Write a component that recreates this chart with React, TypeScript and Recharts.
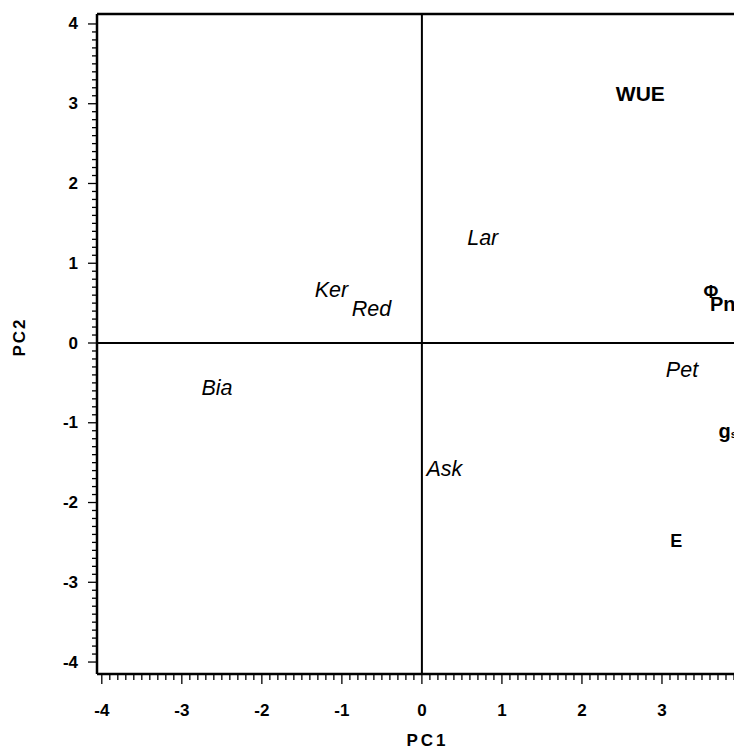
import {
  ScatterChart,
  Scatter,
  XAxis,
  YAxis,
  ReferenceLine,
  Label,
} from 'recharts';

// PCA biplot: cultivars (italic) and gas-exchange variables (bold)
const cultivarNames = ['Ker', 'Red', 'Lar', 'Bia', 'Ask', 'Pet'];
const cultivarPC1 = [-1.13, -0.63, 0.76, -2.56, 0.28, 3.25];
const cultivarPC2 = [0.66, 0.43, 1.32, -0.56, -1.58, -0.34];

const variableNames = ['WUE', 'Φ', 'Pn', 'gs', 'E'];
const variablePC1 = [2.73, 3.61, 3.76, 3.82, 3.18];
const variablePC2 = [3.13, 0.64, 0.49, -1.1, -2.48];

const majorTicks = [-4, -3, -2, -1, 0, 1, 2, 3, 4];

const FONT = '"Liberation Sans", Arial, Helvetica, sans-serif';

const minorTicks: number[] = [];
for (let i = 0; i < majorTicks.length - 1; i++) {
  for (let k = 0; k < 10; k++) {
    minorTicks.push(Number((majorTicks[i] + k / 10).toFixed(2)));
  }
}
minorTicks.push(majorTicks[majorTicks.length - 1]);

const isMajor = (v: number) => Math.abs(v - Math.round(v)) < 1e-6;

const cultivars = cultivarNames.map((name, i) => ({
  name,
  x: cultivarPC1[i],
  y: cultivarPC2[i],
}));
const variables = variableNames.map((name, i) => ({
  name,
  x: variablePC1[i],
  y: variablePC2[i],
}));

const boldSize: Record<string, number> = {
  WUE: 21,
  'Φ': 18,
  Pn: 20,
  gs: 20,
  E: 18,
};

const XTick = (props: any) => {
  const { x, y, payload } = props;
  const major = isMajor(payload.value);
  return (
    <g>
      <line x1={x} y1={y} x2={x} y2={y + (major ? 10 : 6)} stroke="#000" strokeWidth={1.3} />
      {major && (
        <text
          x={x}
          y={y + 36}
          textAnchor="middle"
          dominantBaseline="central"
          fontFamily={FONT}
          fontWeight="bold"
          fontSize={17}
          fill="#000"
        >
          {Math.round(payload.value)}
        </text>
      )}
    </g>
  );
};

const YTick = (props: any) => {
  const { x, y, payload } = props;
  const major = isMajor(payload.value);
  return (
    <g>
      <line x1={x} y1={y} x2={x - (major ? 9 : 5)} y2={y} stroke="#000" strokeWidth={1.3} />
      {major && (
        <text
          x={x - 19}
          y={y}
          textAnchor="end"
          dominantBaseline="central"
          fontFamily={FONT}
          fontWeight="bold"
          fontSize={17}
          fill="#000"
        >
          {Math.round(payload.value)}
        </text>
      )}
    </g>
  );
};

const ItalicLabel = (props: any) => {
  const { cx, cy, payload } = props;
  return (
    <text
      x={cx}
      y={cy}
      textAnchor="middle"
      dominantBaseline="central"
      fontFamily={FONT}
      fontStyle="italic"
      fontSize={21.5}
      fill="#000"
    >
      {payload.name}
    </text>
  );
};

const BoldLabel = (props: any) => {
  const { cx, cy, payload } = props;
  const size = boldSize[payload.name] || 19;
  if (payload.name === 'gs') {
    return (
      <text
        x={cx}
        y={cy}
        textAnchor="middle"
        dominantBaseline="central"
        fontFamily={FONT}
        fontWeight="bold"
        fontSize={size}
        fill="#000"
      >
        g
        <tspan fontSize={size * 0.55} dy={3}>
          s
        </tspan>
      </text>
    );
  }
  return (
    <text
      x={cx}
      y={cy}
      textAnchor="middle"
      dominantBaseline="central"
      fontFamily={FONT}
      fontWeight="bold"
      fontSize={size}
      fill="#000"
    >
      {payload.name}
    </text>
  );
};

export default function App() {
  return (
    <div style={{ width: 734, height: 748, overflow: 'hidden', background: '#fff' }}>
      <ScatterChart
        width={760}
        height={748}
        margin={{ top: 6, right: 18, left: 10, bottom: 22 }}
      >
        <XAxis
          type="number"
          dataKey="x"
          domain={[-4.06, 4.1]}
          ticks={minorTicks}
          interval={0}
          allowDataOverflow
          tickSize={0}
          tickMargin={0}
          tickLine={false}
          tick={<XTick />}
          height={60}
          axisLine={{ stroke: '#000', strokeWidth: 2.5 }}
        >
          <Label
            content={(p: any) => {
              const vb = p.viewBox || {};
              return (
                <text
                  x={vb.x + vb.width / 2 + 4}
                  y={732}
                  textAnchor="middle"
                  dominantBaseline="central"
                  fontFamily={FONT}
                  fontWeight="bold"
                  fontSize={17}
                  letterSpacing={3}
                  fill="#000"
                >
                  PC1
                </text>
              );
            }}
          />
        </XAxis>
        <YAxis
          type="number"
          dataKey="y"
          domain={[-4.15, 4.125]}
          ticks={minorTicks}
          interval={0}
          allowDataOverflow
          tickSize={0}
          tickMargin={0}
          tickLine={false}
          tick={<YTick />}
          width={79}
          axisLine={{ stroke: '#000', strokeWidth: 2.5 }}
        >
          <Label
            content={() => (
              <text
                x={11}
                y={329}
                transform="rotate(-90 11 329)"
                textAnchor="middle"
                dominantBaseline="central"
                fontFamily={FONT}
                fontWeight="bold"
                fontSize={17}
                letterSpacing={2}
                fill="#000"
              >
                PC2
              </text>
            )}
          />
        </YAxis>
        <ReferenceLine y={4.125} stroke="#000" strokeWidth={2.5} />
        <ReferenceLine x={0} stroke="#000" strokeWidth={2} />
        <ReferenceLine y={0} stroke="#000" strokeWidth={2} />
        <Scatter data={cultivars} shape={<ItalicLabel />} isAnimationActive={false} />
        <Scatter data={variables} shape={<BoldLabel />} isAnimationActive={false} />
      </ScatterChart>
    </div>
  );
}
